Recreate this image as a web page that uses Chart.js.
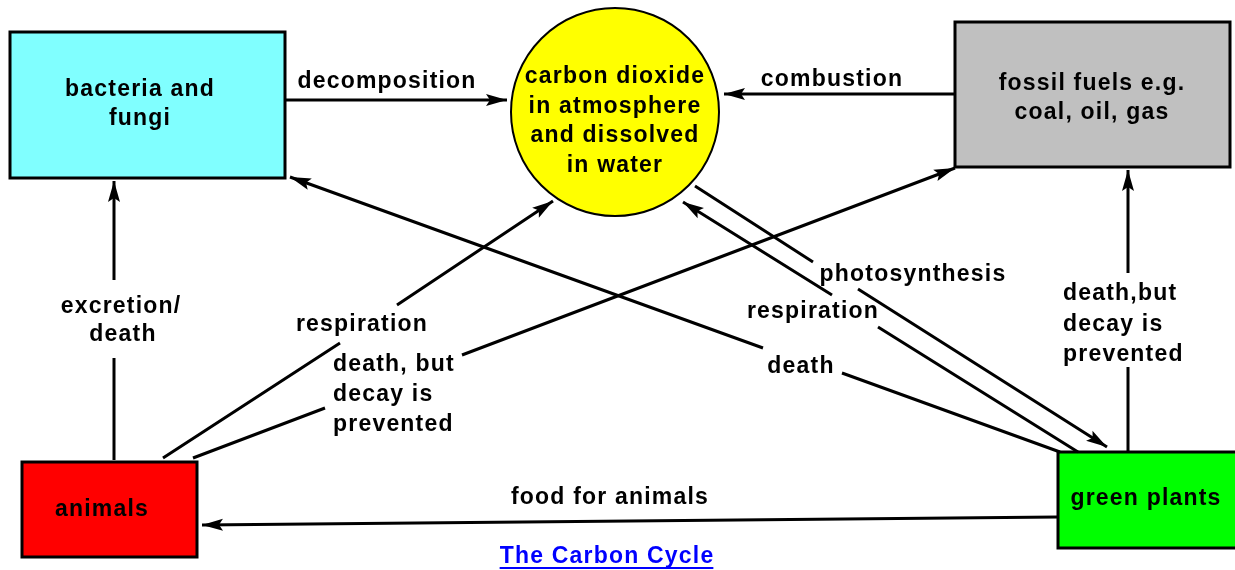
<!DOCTYPE html>
<html>
<head>
<meta charset="utf-8">
<title>The Carbon Cycle</title>
<script src="https://cdn.jsdelivr.net/npm/chart.js@4/dist/chart.umd.min.js"></script>
<style>
  html, body { margin: 0; padding: 0; background: #ffffff; }
  #wrap { width: 1235px; height: 570px; }
</style>
</head>
<body>
<div id="wrap"><canvas id="cycle" width="1235" height="570"></canvas></div>
<script>
// Colours
const COLORS = {
    ink: '#000000',
    bacteria: '#80ffff',
    fossil: '#c0c0c0',
    animals: '#ff0000',
    plants: '#00ff00',
    co2: '#ffff00',
    link: '#0000ff'
};
const FONT = 'bold 23px "Liberation Sans", Arial, sans-serif';

// Boxes (diagram units, y grows downward)
const boxNames   = ['bacteria and\nfungi', 'fossil fuels e.g.\ncoal, oil, gas', 'animals', 'green plants'];
const boxLeft    = [10, 955, 22, 1058];
const boxRight   = [285, 1230, 197, 1240];
const boxTop     = [32, 22, 462, 452];
const boxBottom  = [178, 167, 557, 548];
const boxTextX   = [140, 1092, 102, 1146];
const boxTextY   = [88, 82, 508, 497];
const boxFill    = [COLORS.bacteria, COLORS.fossil, COLORS.animals, COLORS.plants];

// The CO2 pool
const poolName   = ['carbon dioxide', 'in atmosphere', 'and dissolved', 'in water'];
const poolCenter = [615, 112];
const poolRadius = 104;

// Arrows: start ... tip, null where the line breaks for its label
const arrowPaths = [
    [[285, 100], [507, 100]],                                 // decomposition
    [[955, 94], [724, 94]],                                   // combustion
    [[114, 460], [114, 358], null, [114, 280], [114, 181]],   // excretion/death
    [[1060, 452], [842, 373], null, [763, 348], [290, 177]],  // death (plants -> bacteria)
    [[163, 458], [340, 343], null, [397, 305], [553, 201]],   // respiration (animals)
    [[193, 458], [325, 408], null, [462, 355], [955, 168]],   // death, but decay is prevented (animals)
    [[695, 186], [813, 262], null, [858, 289], [1107, 447]],  // photosynthesis
    [[1078, 452], [878, 327], null, [832, 295], [683, 202]],  // respiration (plants)
    [[1128, 452], [1128, 367], null, [1128, 273], [1128, 170]], // death, but decay is prevented (plants)
    [[1058, 517], [202, 525]]                                 // food for animals
];

// Arrow labels
const labelText  = ['decomposition', 'combustion', 'excretion/', 'death', 'respiration',
                    'death, but', 'decay is', 'prevented', 'photosynthesis', 'respiration', 'death',
                    'death,but', 'decay is', 'prevented', 'food for animals'];
const labelX     = [387, 832, 121, 123, 362, 333, 333, 333, 913, 813, 801, 1063, 1063, 1063, 610];
const labelY     = [80, 78, 305, 333, 323, 363, 393, 423, 273, 310, 365, 292, 323, 353, 496];
const labelAlign = ['center', 'center', 'center', 'center', 'center', 'left', 'left', 'left',
                    'center', 'center', 'center', 'left', 'left', 'left', 'center'];

const TITLE = 'The Carbon Cycle';
const titlePos = [607, 555];

function textOut(ctx, str, x, y, align, font, color) {
    ctx.save();
    ctx.font = font;
    ctx.fillStyle = color;
    ctx.textBaseline = 'middle';
    ctx.letterSpacing = '1.2px';
    const w = ctx.measureText(str).width;
    let left = x;
    if (align === 'center') left = x - w / 2;
    ctx.textAlign = 'left';
    ctx.fillText(str, left, y + 2);
    ctx.restore();
    return { left, w };
}

// Boxes + pool under the lines
const shapesPlugin = {
    id: 'shapes',
    beforeDatasetsDraw(chart) {
        const { ctx, scales: { x, y } } = chart;
        ctx.save();
        ctx.lineWidth = 3;
        ctx.strokeStyle = COLORS.ink;
        boxNames.forEach((name, i) => {
            const l = x.getPixelForValue(boxLeft[i]), r = x.getPixelForValue(boxRight[i]);
            const t = y.getPixelForValue(boxTop[i]), b = y.getPixelForValue(boxBottom[i]);
            ctx.fillStyle = boxFill[i];
            ctx.fillRect(l, t, r - l, b - t);
            ctx.strokeRect(l, t, r - l, b - t);
        });
        const cx = x.getPixelForValue(poolCenter[0]), cy = y.getPixelForValue(poolCenter[1]);
        const rad = x.getPixelForValue(poolCenter[0] + poolRadius) - cx;
        ctx.beginPath();
        ctx.arc(cx, cy, rad, 0, Math.PI * 2);
        ctx.fillStyle = COLORS.co2;
        ctx.fill();
        ctx.lineWidth = 2;
        ctx.stroke();
        ctx.restore();
    },
    afterDatasetsDraw(chart) {
        const { ctx, scales: { x, y } } = chart;

        // arrow heads at the last point of every path
        chart.data.datasets.forEach((ds, i) => {
            const pts = chart.getDatasetMeta(i).data;
            const tip = pts[pts.length - 1], from = pts[pts.length - 2];
            const ang = Math.atan2(tip.y - from.y, tip.x - from.x);
            ctx.save();
            ctx.translate(tip.x, tip.y);
            ctx.rotate(ang);
            ctx.beginPath();
            ctx.moveTo(0, 0);
            ctx.lineTo(-21, -6);
            ctx.lineTo(-17, 0);
            ctx.lineTo(-21, 6);
            ctx.closePath();
            ctx.fillStyle = COLORS.ink;
            ctx.fill();
            ctx.restore();
        });

        // box text
        boxNames.forEach((name, i) => {
            name.split('\n').forEach((line, j) => {
                textOut(ctx, line, x.getPixelForValue(boxTextX[i]),
                    y.getPixelForValue(boxTextY[i] + j * 29), 'center', FONT, COLORS.ink);
            });
        });
        poolName.forEach((line, j) => {
            textOut(ctx, line, x.getPixelForValue(poolCenter[0]),
                y.getPixelForValue(75 + j * 29.5), 'center', FONT, COLORS.ink);
        });

        // arrow labels
        labelText.forEach((str, i) => {
            textOut(ctx, str, x.getPixelForValue(labelX[i]), y.getPixelForValue(labelY[i]),
                labelAlign[i], FONT, COLORS.ink);
        });

        // title link
        const t = textOut(ctx, TITLE, x.getPixelForValue(titlePos[0]), y.getPixelForValue(titlePos[1]),
            'center', FONT, COLORS.link);
        ctx.save();
        ctx.fillStyle = COLORS.link;
        ctx.fillRect(t.left, y.getPixelForValue(titlePos[1]) + 12, t.w - 1, 2);
        ctx.restore();
    }
};

new Chart(document.getElementById('cycle'), {
    type: 'line',
    data: {
        datasets: arrowPaths.map(path => ({
            data: path.map(p => p ? { x: p[0], y: p[1] } : { x: null, y: null }),
            borderColor: COLORS.ink,
            borderWidth: 3,
            pointRadius: 0,
            tension: 0,
            spanGaps: false,
            fill: false
        }))
    },
    options: {
        responsive: false,
        animation: false,
        events: [],
        layout: { padding: 0 },
        plugins: {
            legend: { display: false },
            tooltip: { enabled: false },
            title: { display: false }
        },
        scales: {
            x: { type: 'linear', min: 0, max: 1235, display: false },
            y: { type: 'linear', min: 0, max: 570, reverse: true, display: false }
        }
    },
    plugins: [shapesPlugin]
});
</script>
</body>
</html>
